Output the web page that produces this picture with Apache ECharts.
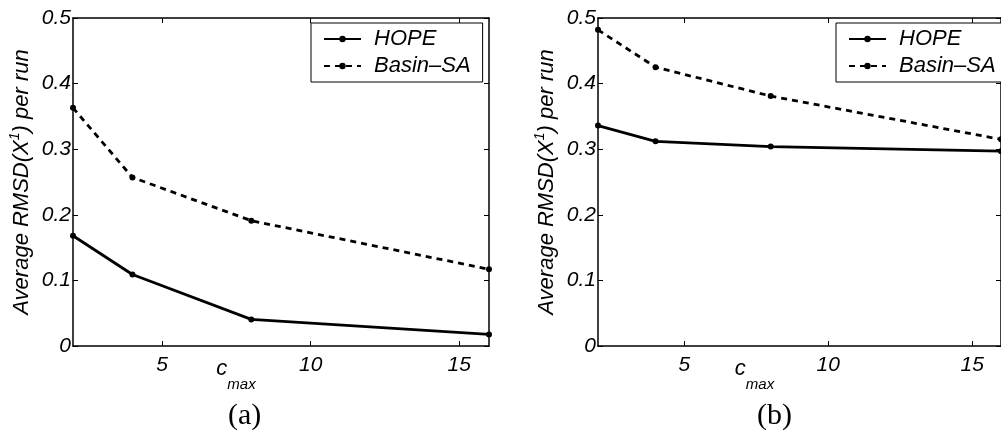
<!DOCTYPE html>
<html><head><meta charset="utf-8">
<script src="https://cdn.jsdelivr.net/npm/echarts@6/dist/echarts.min.js"></script>
<style>html,body{margin:0;padding:0;background:#fff}#c{width:1001px;height:436px}</style>
</head><body><div id="c"></div>
<script>
// ---- data ----
const cmax = [2, 4, 8, 16];
const hopeA = [0.168, 0.109, 0.0405, 0.0177];
const basinA = [0.363, 0.257, 0.191, 0.117];
const hopeB = [0.336, 0.312, 0.304, 0.297];
const basinB = [0.482, 0.425, 0.381, 0.315];
const xTicks = [5, 10, 15];
const seriesNames = ['HOPE', 'Basin\u2013SA'];
const captions = ['(a)', '(b)'];
const yName = 'Average RMSD(X{sup|1}) per run';
const xName = '{c|c}{s|max}{z|}';

// ---- styling ----
const FONT = 'Liberation Sans';
const FS = 21;
const panels = [
  {left: 73, width: 416, legendLeft: 311, capX: 248, hope: hopeA, basin: basinA},
  {left: 598, width: 415, legendLeft: 836, capX: 777, hope: hopeB, basin: basinB}
];
const pairs = (vals) => cmax.map((x, i) => [x, vals[i]]);
const lineAxis = {show: true, onZero: false, lineStyle: {color: '#000', width: 1.5}};
const tickIn = (custom) => {
  const t = {show: true, inside: true, length: 5, lineStyle: {color: '#000', width: 1}};
  if (custom) t.customValues = custom;
  return t;
};
const labelStyle = {fontFamily: FONT, fontSize: FS, fontStyle: 'italic', color: '#000'};

const grid = [], xAxis = [], yAxis = [], series = [], legend = [], graphic = [];
panels.forEach((p, k) => {
  grid.push({left: p.left, top: 18, width: p.width, height: 328, containLabel: false});
  xAxis.push({
    type: 'value', gridIndex: k, min: 2, max: 16, position: 'bottom',
    axisLine: lineAxis, axisTick: tickIn(xTicks), splitLine: {show: false},
    axisLabel: Object.assign({customValues: xTicks, margin: 9}, labelStyle),
    name: xName, nameLocation: 'middle', nameGap: 12, nameMoveOverlap: false,
    nameTextStyle: {
      padding: [0, 90, 0, 0],
      rich: {
        c: {fontFamily: FONT, fontSize: 22, fontStyle: 'italic', color: '#000', lineHeight: 22, verticalAlign: 'top'},
        s: {fontFamily: FONT, fontSize: 15, fontStyle: 'italic', color: '#000', lineHeight: 16, verticalAlign: 'bottom'},
        z: {lineHeight: 34, width: 0}
      }
    }
  });
  xAxis.push({
    type: 'value', gridIndex: k, min: 2, max: 16, position: 'top',
    axisLine: lineAxis, axisTick: tickIn(xTicks), splitLine: {show: false},
    axisLabel: Object.assign({customValues: xTicks, show: false}, labelStyle)
  });
  yAxis.push({
    type: 'value', gridIndex: k, min: 0, max: 0.5, interval: 0.1, position: 'left',
    axisLine: lineAxis, axisTick: tickIn(), splitLine: {show: false},
    axisLabel: Object.assign({margin: 2, formatter: (v) => (v === 0 ? '0' : v.toFixed(1))}, labelStyle),
    name: yName, nameLocation: 'middle', nameGap: 37, nameRotate: 90, nameMoveOverlap: false,
    nameTextStyle: {
      fontFamily: FONT, fontSize: 22, fontStyle: 'italic', color: '#000', lineHeight: 28,
      rich: {
        sup: {fontFamily: FONT, fontSize: 14, fontStyle: 'italic', color: '#000', lineHeight: 14, verticalAlign: 'top'}
      }
    }
  });
  yAxis.push({
    type: 'value', gridIndex: k, min: 0, max: 0.5, interval: 0.1, position: 'right',
    axisLine: lineAxis, axisTick: tickIn(), axisLabel: {show: false}, splitLine: {show: false}
  });
  series.push({
    name: seriesNames[0], type: 'line', xAxisIndex: 2 * k, yAxisIndex: 2 * k,
    data: pairs(p.hope), symbol: 'circle', symbolSize: 6, showSymbol: true,
    itemStyle: {color: '#000'}, lineStyle: {color: '#000', width: 2.8, type: 'solid'},
    animation: false, silent: true
  });
  series.push({
    name: seriesNames[1], type: 'line', xAxisIndex: 2 * k, yAxisIndex: 2 * k,
    data: pairs(p.basin), symbol: 'circle', symbolSize: 6, showSymbol: true,
    itemStyle: {color: '#000'}, lineStyle: {color: '#000', width: 2.8, type: [6, 5]},
    animation: false, silent: true
  });
  legend.push({
    data: seriesNames, orient: 'vertical', left: p.legendLeft, top: 23,
    padding: [5, 12, 5, 12], itemWidth: 37, itemHeight: 8, itemGap: 5,
    borderColor: '#000', borderWidth: 1, borderRadius: 0, backgroundColor: '#fff',
    selectedMode: false,
    textStyle: {fontFamily: FONT, fontSize: 22, fontStyle: 'italic', color: '#000', lineHeight: 20, padding: [0, 0, 0, 8]}
  });
  graphic.push({
    type: 'text', left: p.capX - 20, top: 401,
    style: {text: captions[k], fontFamily: 'Liberation Serif', fontSize: 30, fill: '#000'}
  });
});

const chart = echarts.init(document.getElementById('c'), null, {renderer: 'canvas'});
chart.setOption({animation: false, backgroundColor: '#fff', grid, xAxis, yAxis, series, legend, graphic});
</script>
</body></html>
